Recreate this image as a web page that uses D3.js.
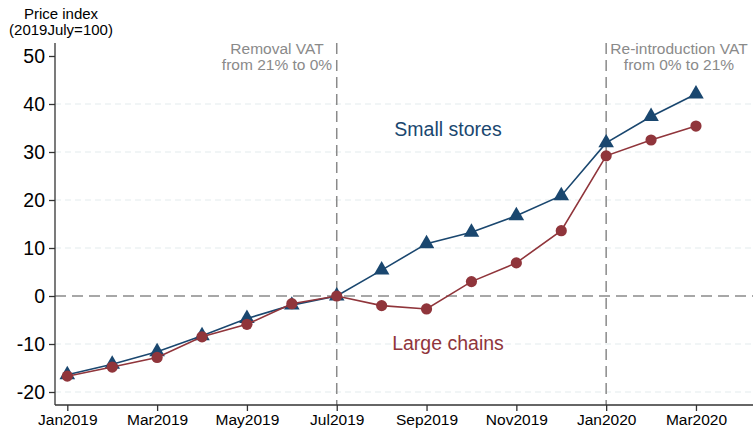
<!DOCTYPE html>
<html>
<head>
<meta charset="utf-8">
<script src="https://cdn.jsdelivr.net/npm/d3@7"></script>
<style>
html,body{margin:0;padding:0;background:#fff;}
svg{display:block;font-family:"Liberation Sans",Arial,sans-serif;}
</style>
</head>
<body>
<svg id="chart" width="753" height="431"></svg>
<script>
const months = ["Jan2019","Feb2019","Mar2019","Apr2019","May2019","Jun2019","Jul2019","Aug2019","Sep2019","Oct2019","Nov2019","Dec2019","Jan2020","Feb2020","Mar2020"];
const tickMonths = ["Jan2019","Mar2019","May2019","Jul2019","Sep2019","Nov2019","Jan2020","Mar2020"];
const smallStores = [-16.4,-14.2,-11.6,-8.3,-4.7,-1.9,0,5.4,10.9,13.3,16.7,20.9,31.9,37.4,42.1];
const largeChains = [-16.7,-14.8,-12.8,-8.5,-5.9,-1.6,0,-2.0,-2.7,3.0,6.9,13.6,29.2,32.5,35.4];
const yTicks = [-20,-10,0,10,20,30,40,50];
const gridTicks = [-20,-10,10,20,30,40];
const vatEvents = [
  {month:"Jul2019", lines:["Removal VAT","from 21% to 0%"], cx:277},
  {month:"Jan2020", lines:["Re-introduction VAT","from 0% to 21%"], cx:679}
];

const svg = d3.select("#chart");
const pLeft = 55, pRight = 753, pTop = 43, pBottom = 405;
const x = d3.scaleLinear().domain([-0.274, 15.27]).range([pLeft, pRight]);
const y = d3.scaleLinear().domain([-22.708, 52.708]).range([pBottom, pTop]);
const xi = m => x(months.indexOf(m));

// gridlines
svg.append("g").selectAll("line").data(gridTicks).join("line")
  .attr("x1", pLeft).attr("x2", pRight)
  .attr("y1", d => y(d)).attr("y2", d => y(d))
  .attr("stroke", "#e3ecee").attr("stroke-width", 1.2).attr("stroke-dasharray", "6,4");

// zero line
svg.append("line").attr("x1", pLeft).attr("x2", pRight).attr("y1", y(0)).attr("y2", y(0))
  .attr("stroke", "#8a8a8a").attr("stroke-width", 1.5).attr("stroke-dasharray", "11,6");

// vertical VAT lines
vatEvents.forEach(ev => {
  svg.append("line").attr("x1", xi(ev.month)).attr("x2", xi(ev.month))
    .attr("y1", pTop).attr("y2", pBottom)
    .attr("stroke", "#8a8a8a").attr("stroke-width", 1.5).attr("stroke-dasharray", "11,6");
  const t = svg.append("text").attr("text-anchor", "middle").attr("fill", "#8a8a8a")
    .attr("font-size", "15.5px");
  ev.lines.forEach((l, i) => t.append("tspan").attr("x", ev.cx).attr("y", 54 + i * 16).text(l));
});

// axes
const yAxis = d3.axisLeft(y).tickValues(yTicks).tickSize(6).tickPadding(4).tickFormat(d => String(d));
const gy = svg.append("g").attr("transform", `translate(${pLeft},0)`).call(yAxis);
gy.select(".domain").attr("d", `M0,${pTop}V${pBottom}`).attr("stroke", "#333").attr("stroke-width", 1.3);
gy.selectAll(".tick line").attr("stroke", "#333").attr("stroke-width", 1.3);
gy.selectAll(".tick text").attr("font-size", "19.5px").attr("fill", "#000").attr("font-family", "Liberation Sans, Arial, sans-serif");

const xAxis = d3.axisBottom(x).tickValues(tickMonths.map(m => months.indexOf(m))).tickSize(6).tickPadding(3)
  .tickFormat(i => months[i]);
const gx = svg.append("g").attr("transform", `translate(0,${pBottom})`).call(xAxis);
gx.select(".domain").attr("d", `M${pLeft},0H${pRight}`).attr("stroke", "#333").attr("stroke-width", 1.3);
gx.selectAll(".tick line").attr("stroke", "#333").attr("stroke-width", 1.3);
gx.selectAll(".tick text").attr("font-size", "15.5px").attr("fill", "#000").attr("font-family", "Liberation Sans, Arial, sans-serif");

// y title
const yt = svg.append("text").attr("text-anchor", "middle").attr("font-size", "15px").attr("fill", "#000");
yt.append("tspan").attr("x", 61).attr("y", 19).text("Price index");
yt.append("tspan").attr("x", 61).attr("y", 35).text("(2019July=100)");

// series
const line = d3.line().x((d, i) => x(i)).y(d => y(d));
const blue = "#1a476f", red = "#90353b";
svg.append("path").datum(smallStores).attr("d", line).attr("fill", "none").attr("stroke", blue).attr("stroke-width", 1.6);
svg.append("g").selectAll("path").data(smallStores).join("path")
  .attr("d", d3.symbol(d3.symbolTriangle, 105))
  .attr("transform", (d, i) => `translate(${x(i)},${y(d)})`).attr("fill", blue);
svg.append("path").datum(largeChains).attr("d", line).attr("fill", "none").attr("stroke", red).attr("stroke-width", 1.6);
svg.append("g").selectAll("circle").data(largeChains).join("circle")
  .attr("cx", (d, i) => x(i)).attr("cy", d => y(d)).attr("r", 5.6).attr("fill", red);

// series labels
svg.append("text").attr("x", 448).attr("y", 136).attr("text-anchor", "middle").attr("font-size", "19.5px").attr("fill", blue).text("Small stores");
svg.append("text").attr("x", 448).attr("y", 350).attr("text-anchor", "middle").attr("font-size", "19.5px").attr("fill", red).text("Large chains");
</script>
</body>
</html>
